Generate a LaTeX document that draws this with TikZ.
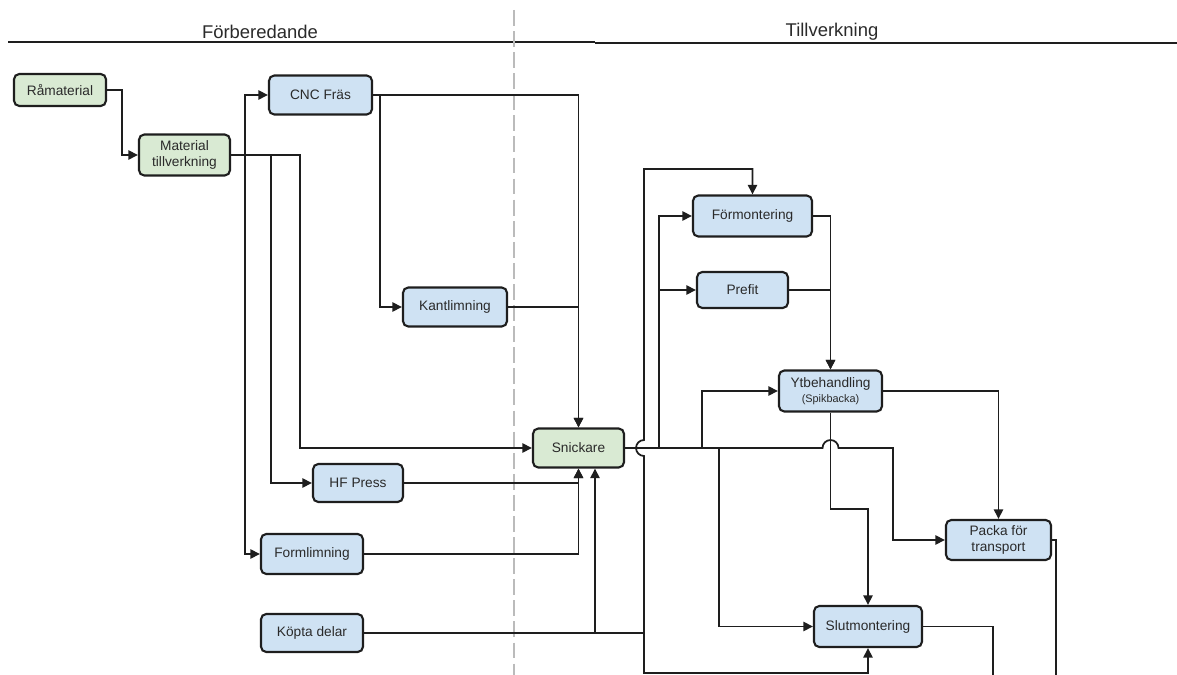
\documentclass[tikz,border=0pt]{standalone}
\usepackage{fontspec}
\setmainfont{Liberation Sans}
\usetikzlibrary{arrows.meta}
\definecolor{gfill}{HTML}{D9EAD3}
\definecolor{bfill}{HTML}{CFE2F3}
\definecolor{edge}{HTML}{1E1E1E}
\definecolor{txt}{HTML}{2A2A2A}
\definecolor{dashcol}{HTML}{BBBBBB}
\tikzset{
  box/.style={draw=edge, line width=1.2pt, rounded corners=3pt, inner sep=0pt,
    text=txt, align=center, font=\fontsize{7.8}{9.4}\selectfont},
  gbox/.style={box, fill=gfill},
  bbox/.style={box, fill=bfill},
  conn/.style={draw=edge, line width=1pt, line join=miter,
    -{Triangle[length=5.4pt,width=5.2pt]}},
  plain/.style={draw=edge, line width=1pt, line join=miter},
  head/.style={text=txt, font=\fontsize{10.5}{12}\selectfont, inner sep=0pt},
}
\begin{document}
\begin{tikzpicture}[x=0.02cm, y=-0.02cm]
\useasboundingbox (0,0) rectangle (1177,675);

% section headers and divider
\node[head] (hprep) at (260,32) {Förberedande};
\node[head] (hmanu) at (832,32) {Tillverkning};
\draw[edge, line width=0.7pt] (8,42) -- (595,42);
\draw[edge, line width=0.7pt] (595,43) -- (1177,43);
\draw[dashcol, line width=1.1pt, dash pattern=on 9pt off 3pt] (514,10) -- (514,675);

% process steps
\node[gbox, minimum width=1.84cm, minimum height=0.64cm] (ram) at (60,90) {Råmaterial};
\node[gbox, minimum width=1.82cm, minimum height=0.82cm] (mat) at (184.5,155) {Material\\tillverkning};
\node[bbox, minimum width=2.06cm, minimum height=0.78cm] (cnc) at (320.5,95) {CNC Fräs};
\node[bbox, minimum width=2.08cm, minimum height=0.78cm] (kant) at (455,307) {Kantlimning};
\node[gbox, minimum width=1.82cm, minimum height=0.78cm] (snick) at (578.5,448) {Snickare};
\node[bbox, minimum width=1.80cm, minimum height=0.76cm] (hf) at (358,483) {HF Press};
\node[bbox, minimum width=2.04cm, minimum height=0.80cm] (form) at (312,554) {Formlimning};
\node[bbox, minimum width=2.04cm, minimum height=0.76cm] (kop) at (312,633) {Köpta delar};
\node[bbox, minimum width=2.38cm, minimum height=0.82cm] (formont) at (752.5,216) {Förmontering};
\node[bbox, minimum width=1.82cm, minimum height=0.72cm] (prefit) at (742.5,290) {Prefit};
\node[bbox, minimum width=2.06cm, minimum height=0.82cm] (yt) at (830.5,391)
  {Ytbehandling\\[-1.2pt]{\fontsize{6.2}{7}\selectfont (Spikbacka)}};
\node[bbox, minimum width=2.10cm, minimum height=0.80cm, font=\fontsize{7.8}{9.6}\selectfont] (packa) at (998.5,540) {Packa för\\transport};
\node[bbox, minimum width=2.16cm, minimum height=0.82cm] (slut) at (868,626.5) {Slutmontering};

% free ends leaving the bottom edge
\coordinate (slutout) at (993,676);
\coordinate (packaout) at (1056,676);

% raw material
\draw[conn] (ram.east) -- ++(15,0) |- (mat.west);

% material production feeds
\draw[plain, line width=1.6pt] (mat.east) -- (250,155);
\draw[conn] (mat.east) -| (245,120) |- (cnc.west);
\draw[conn] (mat.east) -| (245,500) |- (form.west);
\draw[conn] (mat.east) -| (271,400) |- (hf.west);
\draw[conn] (mat.east) -| (300,300) |- (snick.west);

% CNC and edge gluing
\draw[conn] (cnc.east) -| (snick.north);
\draw[conn] (cnc.east) -| (380,200) |- (kant.west);
\draw[conn] (kant.east) -| (snick.north);

% pressing and form gluing
\draw[conn] (hf.east) -| (snick.south);
\draw[conn] (form.east) -| (snick.south);

% bought parts
\draw[plain, line width=1.6pt] (kop.east) -- (644,633);
\draw[conn] (kop.east) -| ([xshift=0.33cm]snick.south);
\draw[conn] (kop.east) -- (644,633) -- (644,456)
  arc[start angle=270, end angle=90, radius=0.16cm] -- (644,169) -| (formont.north);
\draw[conn] (kop.east) -| (644,673) -| (slut.south);

% joinery outputs
\draw[plain, line width=1.6pt] (snick.east) -- (719,448);
\draw[conn] (snick.east) -| (659,300) |- (formont.west);
\draw[conn] (snick.east) -| (659,300) |- (prefit.west);
\draw[conn] (snick.east) -| (702,420) |- (yt.west);
\draw[conn] (snick.east) -| (719,600) |- (slut.west);
\draw[conn] (snick.east) -- (822.5,448)
  arc[start angle=180, end angle=0, radius=0.16cm] -| (893,500) |- (packa.west);

% pre-assembly and prefit to surface treatment
\draw[conn] (formont.east) -| (yt.north);
\draw[conn] (prefit.east) -| (yt.north);

% surface treatment outputs
\draw[conn] (yt.east) -| (packa.north);
\draw[conn] (yt.south) |- (850,509) -| (slut.north);

% final steps leaving the sheet
\draw[plain] (slut.east) -| (slutout);
\draw[plain] (packa.east) -| (packaout);
\end{tikzpicture}
\end{document}
